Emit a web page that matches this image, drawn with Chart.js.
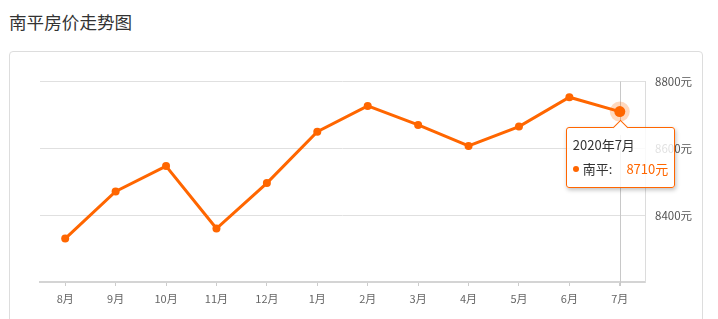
<!DOCTYPE html>
<html>
<head>
<meta charset="utf-8">
<script src="https://cdn.jsdelivr.net/npm/chart.js@4/dist/chart.umd.min.js"></script>
<style>
  html, body { margin: 0; padding: 0; background: #fff; width: 718px; height: 319px; overflow: hidden; }
  body { position: relative; font-family: "Microsoft YaHei", "Noto Sans CJK SC", "Noto Sans", sans-serif; }
  #title { position: absolute; left: 9px; top: 9px; font-size: 17.6px; line-height: 26px; color: #333; }
  #card { position: absolute; left: 9px; top: 51px; width: 692px; height: 300px; border: 1px solid #ddd; border-radius: 4px; box-sizing: content-box; }
  #c { position: absolute; left: 0; top: 0; }
  #tip { position: absolute; display: none; background: rgba(255,255,255,0.82); border: 1px solid #ff6600; border-radius: 3px;
         box-shadow: 1px 2px 4px rgba(0,0,0,0.25); font-size: 13px; color: #333; box-sizing: border-box; padding: 8px 6px 0 6px; }
  #tip .arrow { position: absolute; top: -6px; width: 10px; height: 10px; background: #fff;
         border-left: 1px solid #ff6600; border-top: 1px solid #ff6600; transform: rotate(45deg); }
  #tip .t { line-height: 18px; }
  #tip .row { margin-top: 6px; line-height: 18px; white-space: nowrap; }
  #tip .dot { display: inline-block; width: 6px; height: 6px; border-radius: 50%; background: #ff6600; margin-right: 4px; vertical-align: 2px; }
  #tip .v { color: #ff6600; margin-left: 14px; }
</style>
</head>
<body>
<div id="title">南平房价走势图</div>
<div id="card"></div>
<canvas id="c" width="718" height="319"></canvas>
<div id="tip"></div>
<script>
const categories = ['8月','9月','10月','11月','12月','1月','2月','3月','4月','5月','6月','7月'];
const tooltipTitles = ['2019年8月','2019年9月','2019年10月','2019年11月','2019年12月','2020年1月','2020年2月','2020年3月','2020年4月','2020年5月','2020年6月','2020年7月'];
const seriesName = '南平';
const prices = [8330, 8471, 8547, 8360, 8496, 8650, 8727, 8670, 8607, 8665, 8753, 8710];
const yMin = 8200, yMax = 8800, yStep = 200;
const unit = '元';
const activeIndex = 11;

const orange = '#ff6600';

const crosshair = {
  id: 'crosshair',
  beforeDatasetsDraw(chart) {
    const act = chart.getActiveElements();
    if (!act.length) return;
    const x = act[0].element.x;
    const ctx = chart.ctx, a = chart.chartArea;
    ctx.save();
    ctx.strokeStyle = '#c8c8c8';
    ctx.lineWidth = 1;
    ctx.beginPath();
    ctx.moveTo(Math.round(x) + 0.5, a.top);
    ctx.lineTo(Math.round(x) + 0.5, a.bottom + 4);
    ctx.stroke();
    ctx.restore();
  }
};

function externalTip(context) {
  const tt = context.tooltip;
  const el = document.getElementById('tip');
  if (tt.opacity === 0 || !tt.dataPoints || !tt.dataPoints.length) { el.style.display = 'none'; return; }
  const dp = tt.dataPoints[0];
  el.innerHTML = '<div class="arrow"></div><div class="t">' + tooltipTitles[dp.dataIndex] + '</div>' +
    '<div class="row"><span class="dot"></span>' + seriesName + ':<span class="v">' + dp.raw + unit + '</span></div>';
  el.style.display = 'block';
  el.style.width = '109px';
  el.style.height = '61px';
  const left = tt.caretX - 54;
  el.style.left = left + 'px';
  el.style.top = (tt.caretY + 15) + 'px';
  el.querySelector('.arrow').style.left = (tt.caretX - left - 6) + 'px';
}

const chart = new Chart(document.getElementById('c'), {
  type: 'line',
  data: {
    labels: categories,
    datasets: [{
      label: seriesName,
      data: prices,
      borderColor: orange,
      backgroundColor: orange,
      borderWidth: 3,
      pointRadius: 4,
      pointBackgroundColor: orange,
      pointBorderWidth: 0,
      pointHoverRadius: 5.5,
      pointHoverBackgroundColor: orange,
      pointHoverBorderColor: 'rgba(255,102,0,0.25)',
      pointHoverBorderWidth: 9,
      tension: 0,
      fill: false
    }]
  },
  options: {
    responsive: false,
    animation: false,
    devicePixelRatio: 1,
    events: [],
    layout: { padding: { left: 40, top: 81.5, right: 0, bottom: 0 } },
    plugins: {
      legend: { display: false },
      title: { display: false },
      tooltip: { enabled: false, external: externalTip, mode: 'index', intersect: false }
    },
    scales: {
      x: {
        offset: true,
        grid: { display: true, drawOnChartArea: false, drawTicks: true, tickLength: 4, color: '#ccc', offset: false },
        border: { display: true, color: '#d4d4d4', width: 2 },
        ticks: { color: '#666', font: { size: 11, family: '"Microsoft YaHei", "Noto Sans CJK SC", sans-serif' }, padding: 6, maxRotation: 0, autoSkip: false },
        afterFit(s) { s.height = 37; }
      },
      y: {
        position: 'right',
        min: yMin, max: yMax,
        grid: { color: '#e0e0e0', drawTicks: false, lineWidth: 1 },
        border: { display: true, color: '#dcdcdc', width: 1 },
        ticks: {
          stepSize: yStep, padding: 10, color: '#555',
          font: { size: 11.5, family: '"Microsoft YaHei", "Noto Sans CJK SC", sans-serif' },
          callback: (v) => v === yMin ? '' : v + unit
        },
        afterFit(s) { s.width = 73; }
      }
    }
  },
  plugins: [crosshair]
});

const act = [{ datasetIndex: 0, index: activeIndex }];
chart.setActiveElements(act);
const m = chart.getDatasetMeta(0).data[activeIndex];
chart.tooltip.setActiveElements(act, { x: m.x, y: m.y });
chart.update();
</script>
</body>
</html>
